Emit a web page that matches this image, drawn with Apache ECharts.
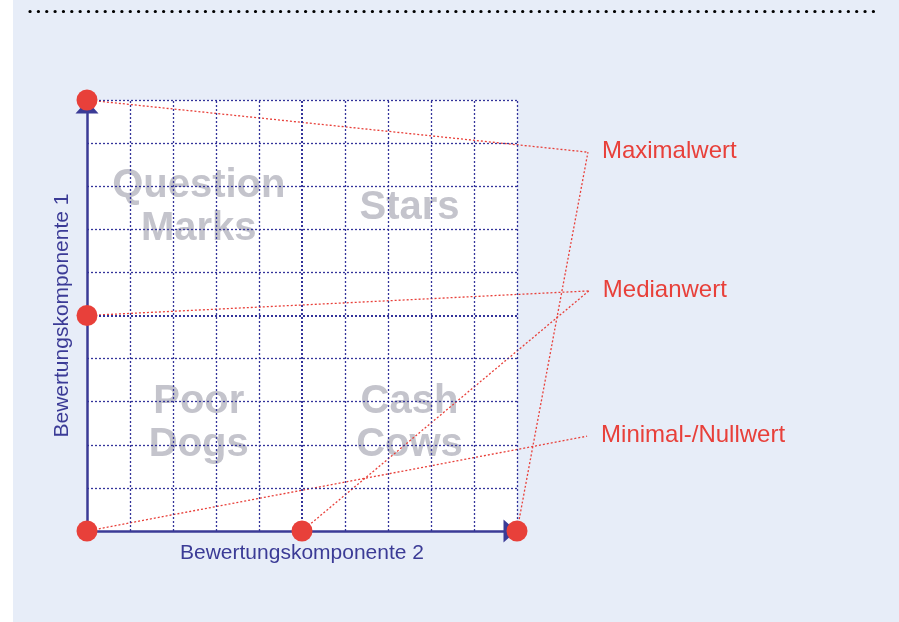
<!DOCTYPE html>
<html><head><meta charset="utf-8">
<script src="https://cdn.jsdelivr.net/npm/echarts@6/dist/echarts.min.js"></script>
<style>html,body{margin:0;padding:0;background:#fff}#c{width:899px;height:622px}</style>
</head><body><div id="c"></div>
<script>
// --- data ---
const axisNames = ['Bewertungskomponente 2', 'Bewertungskomponente 1'];
const gridTicks = [1,2,3,4,5,6,7,8,9,10];
const quadrants = [
  {name:'Question\nMarks', x:2.6, y:7.5},
  {name:'Stars', x:7.5, y:7.5},
  {name:'Poor\nDogs', x:2.6, y:2.5},
  {name:'Cash\nCows', x:7.5, y:2.5}
];
const points = [[0,10],[0,5],[0,0],[5,0],[10,0]];
const labelNames = ['Maximalwert','Medianwert','Minimal-/Nullwert'];
const labelAnchors = [[11.65,8.79],[11.67,5.57],[11.63,2.20]];
// which point connects to which label anchor
const leaderLinks = [[0,0],[4,0],[1,1],[3,1],[2,2]];

const blue = '#3b3b96';
const red = '#e8403a';

const chart = echarts.init(document.getElementById('c'));

const markLines = [];
gridTicks.forEach(t => {
  const w = t === 5 ? 2 : 1.3;
  markLines.push({xAxis: t, lineStyle:{width:w}});
  markLines.push({yAxis: t, lineStyle:{width:w}});
});

chart.setOption({
  backgroundColor: 'transparent',
  animation: false,
  graphic: [
    {type:'rect', z:-100, left:13, top:0, shape:{width:886, height:622}, style:{fill:'#e7edf8'}},
    {type:'line', z:-50, shape:{x1:30, y1:11.5, x2:880, y2:11.5},
     style:{stroke:'#000', lineWidth:3.2, lineDash:[0.1,8.25], lineCap:'round'}}
  ],
  grid: {left:87, right:382, top:100, bottom:91, show:true, backgroundColor:'#ffffff', borderWidth:0},
  xAxis: {
    type:'value', min:0, max:10, interval:1,
    name: axisNames[0], nameLocation:'middle', nameGap:12,
    nameTextStyle:{color:blue, fontSize:21, fontFamily:'Liberation Sans, Arial'},
    axisLine:{show:true, lineStyle:{color:blue, width:2.5}, symbol:['none','triangle'], symbolSize:[23,13], symbolOffset:[0,-7]},
    axisTick:{show:false}, axisLabel:{show:false}, splitLine:{show:false}
  },
  yAxis: {
    type:'value', min:0, max:10, interval:1,
    name: axisNames[1], nameLocation:'middle', nameGap:14,
    nameTextStyle:{color:blue, fontSize:21, fontFamily:'Liberation Sans, Arial'},
    axisLine:{show:true, lineStyle:{color:blue, width:2.5}, symbol:['none','triangle'], symbolSize:[23,13], symbolOffset:[0,-7]},
    axisTick:{show:false}, axisLabel:{show:false}, splitLine:{show:false}
  },
  series: [
    {
      type:'scatter', z:1, symbolSize:0, silent:true, itemStyle:{opacity:1},
      data: quadrants.map(q => ({value:[q.x,q.y], name:q.name})),
      label:{show:true, position:'inside', formatter: p => p.name,
        color:'#c4c4cc', fontSize:40, fontWeight:'bold', lineHeight:43,
        fontFamily:'Liberation Sans, Arial'}
    },
    {
      type:'line', z:3, data:[], silent:true,
      markLine:{symbol:'none', silent:true, label:{show:false},
        lineStyle:{color:'#34349a', type:[2,2], width:1.3, opacity:1},
        data: markLines}
    },
    {
      type:'lines', coordinateSystem:'cartesian2d', z:4, clip:false, silent:true,
      lineStyle:{color:red, width:1.3, type:[2,2], opacity:1},
      data: leaderLinks.map(l => ({coords:[points[l[0]], labelAnchors[l[1]]]}))
    },
    {
      type:'scatter', z:5, clip:false, symbolSize:0, silent:true, itemStyle:{opacity:1},
      data: labelAnchors.map((a,i) => ({value:a, name:labelNames[i]})),
      label:{show:true, position:'right', distance:14, formatter: p => p.name,
        color:red, fontSize:24, fontFamily:'Liberation Sans, Arial', offset:[0,-1]}
    },
    {
      type:'scatter', z:6, clip:false, symbol:'circle', symbolSize:21,
      itemStyle:{color:red, opacity:1}, data: points
    }
  ]
});
</script></body></html>
